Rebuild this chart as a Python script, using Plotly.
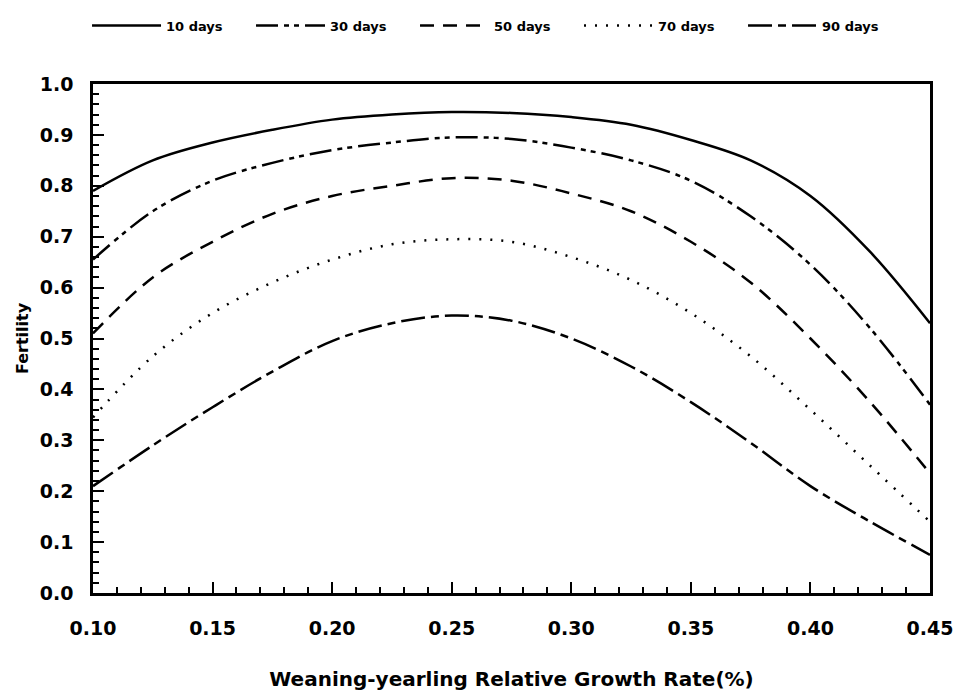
import plotly.graph_objects as go

x_vals = [0.10, 0.125, 0.15, 0.175, 0.20, 0.225, 0.25, 0.275, 0.30, 0.325, 0.35, 0.375, 0.40, 0.425, 0.45]
d10 = [0.79, 0.85, 0.885, 0.91, 0.93, 0.94, 0.945, 0.943, 0.935, 0.92, 0.89, 0.85, 0.78, 0.67, 0.53]
d30 = [0.655, 0.75, 0.81, 0.845, 0.87, 0.885, 0.895, 0.892, 0.875, 0.85, 0.81, 0.74, 0.645, 0.52, 0.37]
d50 = [0.51, 0.62, 0.69, 0.745, 0.78, 0.80, 0.815, 0.81, 0.785, 0.75, 0.69, 0.61, 0.50, 0.375, 0.235]
d70 = [0.345, 0.465, 0.55, 0.61, 0.655, 0.685, 0.695, 0.69, 0.66, 0.615, 0.55, 0.465, 0.36, 0.25, 0.14]
d90 = [0.21, 0.29, 0.365, 0.435, 0.495, 0.53, 0.545, 0.535, 0.50, 0.445, 0.375, 0.295, 0.21, 0.14, 0.075]

names = ["10 days", "30 days", "50 days", "70 days", "90 days"]
series = [d10, d30, d50, d70, d90]
dashes = ["solid", "22px,6px,5px,5px,5px,6px", "14px,9px", "2px,9px", "24px,6px,8px,6px"]

fig = go.Figure()
for n, s, d in zip(names, series, dashes):
    fig.add_trace(go.Scatter(x=x_vals, y=s, name=n, mode="lines", line_shape="spline",
                             line=dict(color="black", width=2.5, dash=d)))

font_family = "DejaVu Sans, Liberation Sans, sans-serif"
fig.update_layout(
    width=967, height=700,
    margin=dict(l=93, r=37, t=84, b=105),
    paper_bgcolor="white", plot_bgcolor="white",
    font=dict(family=font_family, color="black", size=19, weight="bold"),
    legend=dict(orientation="h", xref="container", yref="container", x=0.09, y=0.985,
                xanchor="left", yanchor="top", font=dict(size=13, weight="bold"),
                entrywidth=80, entrywidthmode="pixels", itemwidth=69),
    showlegend=True,
)
fig.update_xaxes(range=[0.10, 0.45], dtick=0.05, tick0=0.10, tickformat=".2f",
                 ticks="inside", ticklen=11, tickwidth=2, tickcolor="black",
                 showline=True, linewidth=2.5, linecolor="black", mirror=True,
                 showgrid=False, zeroline=False,
                 minor=dict(dtick=0.01, ticks="inside", ticklen=6, tickwidth=2, tickcolor="black", showgrid=False),
                 ticklabelstandoff=16,
                 title=dict(text="Weaning-yearling Relative Growth Rate(%)", font=dict(size=20, weight="bold"), standoff=35))
fig.update_yaxes(range=[0.0, 1.0], dtick=0.1, tick0=0, tickformat=".1f",
                 ticks="inside", ticklen=11, tickwidth=2, tickcolor="black",
                 showline=True, linewidth=2.5, linecolor="black", mirror=True,
                 showgrid=False, zeroline=False,
                 minor=dict(dtick=0.02, ticks="inside", ticklen=6, tickwidth=2, tickcolor="black", showgrid=False),
                 ticklabelstandoff=13,
                 title=dict(text="Fertility", font=dict(size=16, weight="bold"), standoff=8))

fig.write_html("out.html")
